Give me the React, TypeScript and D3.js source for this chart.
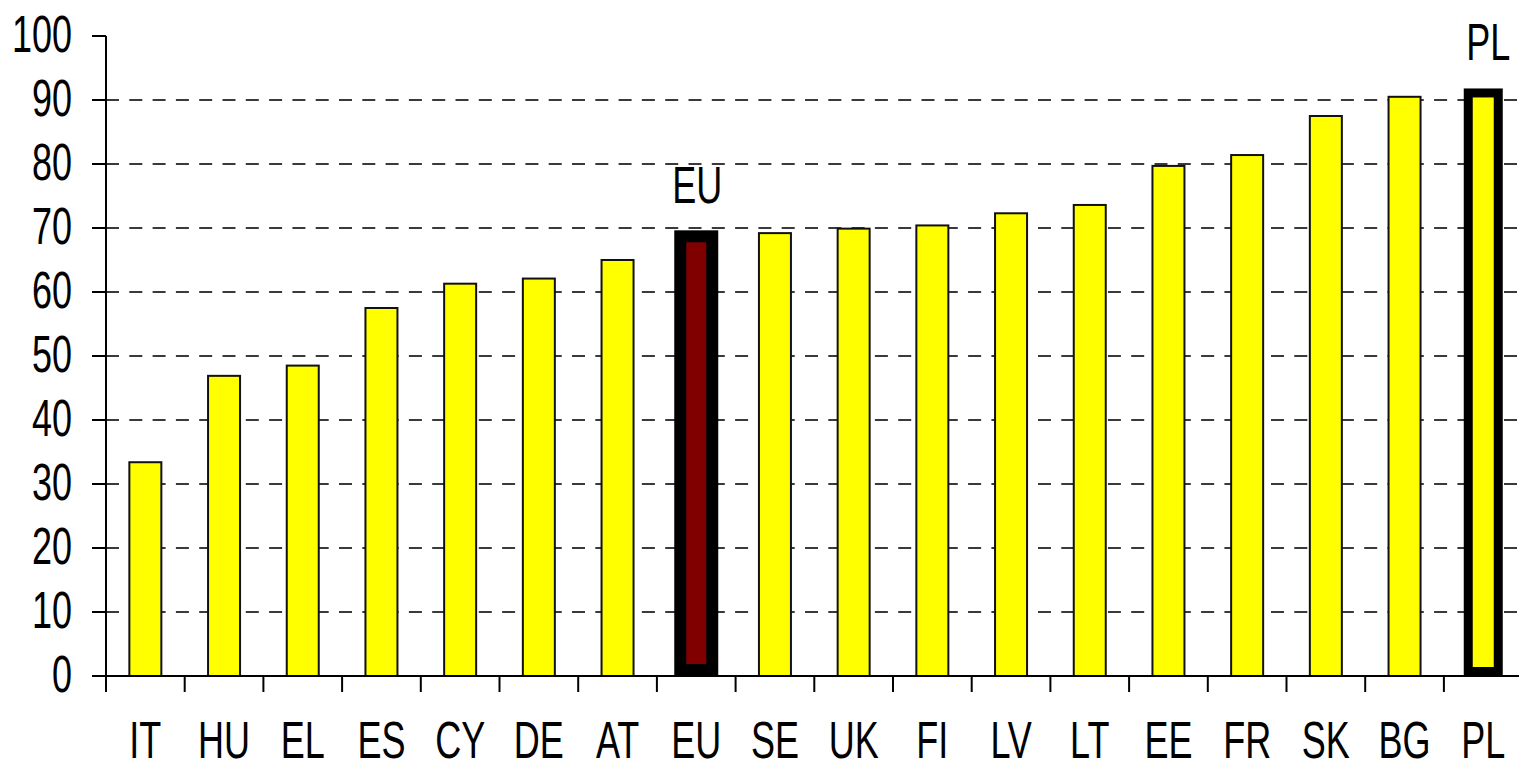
import React from 'react';
import * as d3 from 'd3';

// values
const categories = ['IT', 'HU', 'EL', 'ES', 'CY', 'DE', 'AT', 'EU', 'SE', 'UK', 'FI', 'LV', 'LT', 'EE', 'FR', 'SK', 'BG', 'PL'];
const values = [33.4, 46.9, 48.5, 57.5, 61.3, 62.1, 65.0, 68.7, 69.2, 69.9, 70.4, 72.3, 73.6, 79.7, 81.4, 87.5, 90.5, 91.1];
const yTicks = [0, 10, 20, 30, 40, 50, 60, 70, 80, 90, 100];
const gridTicks = [10, 20, 30, 40, 50, 60, 70, 80, 90];
const labelled = ['EU', 'PL'];

const W = 1519;
const H = 769;
const FONT = '"Liberation Sans", Arial, sans-serif';
const STRETCH = 1.42; // text in the picture is stretched vertically

const App: React.FC = () => {
  const x = d3.scaleBand<string>().domain(categories).range([106, 1522.6]).padding(0);
  const y = d3.scaleLinear().domain([0, 100]).range([676, 36]);
  const y0 = y(0);
  const bw = x.bandwidth();

  const barStyle = (cat: string) => {
    if (cat === 'EU') return { w: 32, sw: 12, fill: '#800000', stroke: '#000' };
    if (cat === 'PL') return { w: 30, sw: 9, fill: '#ffff00', stroke: '#000' };
    return { w: 32, sw: 2, fill: '#ffff00', stroke: '#111' };
  };

  const boundaries = categories.map((c) => x(c) as number);

  return (
    <svg width={W} height={H} style={{ position: 'absolute', left: 0, top: 0, background: '#fff' }}>
      {/* dashed grid */}
      <g>
        {gridTicks.map((t) => (
          <line key={t} x1={106} x2={W} y1={y(t)} y2={y(t)} stroke="#3a3a3a" strokeWidth={2.2} strokeDasharray="13,10.3" />
        ))}
      </g>

      {/* bars */}
      <g>
        {categories.map((c, i) => {
          const s = barStyle(c);
          const cx = (x(c) as number) + bw / 2;
          const top = y(values[i]);
          const inset = s.sw > 3 ? s.sw / 2 : 0;
          return (
            <rect key={c} x={cx - s.w / 2} y={top} width={s.w} height={y0 - top - inset}
              fill={s.fill} stroke={s.stroke} strokeWidth={s.sw} />
          );
        })}
      </g>

      {/* axes */}
      <g stroke="#000" strokeWidth={2}>
        <line x1={106} x2={106} y1={y(100)} y2={692} />
        <line x1={92} x2={W} y1={y0} y2={y0} />
        {yTicks.map((t) => (
          <line key={t} x1={92} x2={106} y1={y(t)} y2={y(t)} />
        ))}
        {boundaries.map((b, i) => (
          <line key={i} x1={b} x2={b} y1={y0} y2={692} />
        ))}
      </g>

      {/* y labels */}
      <g fontFamily={FONT} fontSize={36} fill="#000">
        {yTicks.map((t) => (
          <text key={t} textAnchor="end" transform={`translate(72,${y(t) + 16}) scale(1,${STRETCH})`}>{t}</text>
        ))}
      </g>

      {/* x labels */}
      <g fontFamily={FONT} fontSize={36} fill="#000">
        {categories.map((c) => (
          <text key={c} textAnchor="middle" transform={`translate(${(x(c) as number) + bw / 2},758) scale(1,${STRETCH})`}>{c}</text>
        ))}
      </g>

      {/* labels over highlighted bars */}
      <g fontFamily={FONT} fontSize={36} fill="#000">
        {labelled.map((c) => {
          const i = categories.indexOf(c);
          return (
            <text key={c} textAnchor="middle" transform={`translate(${(x(c) as number) + bw / 2 + (c === 'PL' ? 5 : 1)},${y(values[i]) - 33}) scale(1,${STRETCH})`}>{c}</text>
          );
        })}
      </g>
    </svg>
  );
};

export default App;
